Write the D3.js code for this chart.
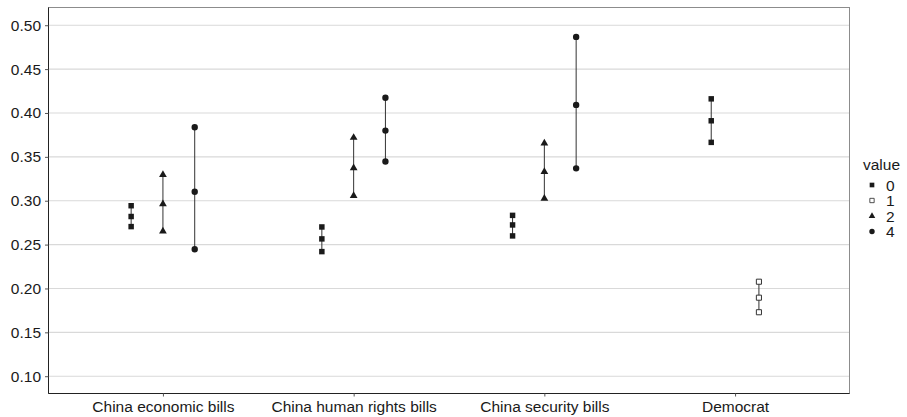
<!DOCTYPE html>
<html>
<head>
<meta charset="utf-8">
<script src="https://cdn.jsdelivr.net/npm/d3@7"></script>
<style>
  body { margin: 0; background: #fff; }
  text { font-family: "Liberation Sans", Arial, sans-serif; fill: #1a1a1a; }
</style>
</head>
<body>
<script>
// categories on the x axis
const categories = ["China economic bills", "China human rights bills", "China security bills", "Democrat"];
const groups = ["0", "1", "2", "4"];
const yTicks = [0.10, 0.15, 0.20, 0.25, 0.30, 0.35, 0.40, 0.45, 0.50];

// estimates per group: middle, lower, upper (null = no estimate)
const mid0 = [0.282, 0.2565, 0.2724, 0.3911];
const lo0  = [0.2705, 0.2420, 0.2599, 0.3665];
const hi0  = [0.2943, 0.2701, 0.2833, 0.4161];

const mid1 = [null, null, null, 0.1895];
const lo1  = [null, null, null, 0.1729];
const hi1  = [null, null, null, 0.2077];

const mid2 = [0.2962, 0.3372, 0.3330, null];
const lo2  = [0.2651, 0.3057, 0.3026, null];
const hi2  = [0.3295, 0.3719, 0.3656, null];

const mid4 = [0.3102, 0.3799, 0.4092, null];
const lo4  = [0.2447, 0.3447, 0.3369, null];
const hi4  = [0.3838, 0.4174, 0.4867, null];

const series = {
  "0": [mid0, lo0, hi0],
  "1": [mid1, lo1, hi1],
  "2": [mid2, lo2, hi2],
  "4": [mid4, lo4, hi4]
};

const rows = [];
categories.forEach((c, i) => {
  const present = groups.filter(g => series[g][0][i] != null);
  present.forEach((g, k) => {
    rows.push({cat: c, group: g, k: k, n: present.length,
      mid: series[g][0][i], lo: series[g][1][i], hi: series[g][2][i]});
  });
});

const W = 907, H = 417;
const pL = 48.5, pR = 849.5, pT = 7.5, pB = 393.5;

const svg = d3.select("body").append("svg")
  .attr("width", W).attr("height", H);

const x = d3.scalePoint().domain(categories).range([pL, pR]).padding(0.6);
const y = d3.scaleLinear().domain([0.0803, 0.5202]).range([pB, pT]);
const dodge = 0.5 * x.step();
function xPos(d) {
  return x(d.cat) + dodge * ((d.k + 0.5) / d.n - 0.5);
}

// grid
svg.append("g").selectAll("line")
  .data(yTicks).enter().append("line")
  .attr("x1", pL).attr("x2", pR)
  .attr("y1", d => y(d)).attr("y2", d => y(d))
  .attr("stroke", "#d9d9d9").attr("stroke-width", 1.1);

// border
svg.append("rect")
  .attr("x", pL).attr("y", pT)
  .attr("width", pR - pL).attr("height", pB - pT)
  .attr("fill", "none").attr("stroke", "#8c8c8c").attr("stroke-width", 1);

// axes
const yAxis = svg.append("g")
  .attr("transform", `translate(${pL},0)`)
  .call(d3.axisLeft(y).tickValues(yTicks).tickFormat(d3.format(".2f")).tickSize(3.5).tickPadding(4));
const xAxis = svg.append("g")
  .attr("transform", `translate(0,${pB})`)
  .call(d3.axisBottom(x).tickSize(3).tickPadding(4));
[yAxis, xAxis].forEach(a => {
  a.select(".domain").attr("stroke", "#222");
  a.selectAll(".tick line").attr("stroke", "#555");
  a.selectAll(".tick text").style("font-size", "15.5px").attr("fill", "#1a1a1a");
});
yAxis.select(".domain").attr("d", `M0,${pT}V${pB}`);
xAxis.select(".domain").attr("d", `M${pL},0H${pR}`);

// ranges
svg.append("g").selectAll("line")
  .data(rows).enter().append("line")
  .attr("x1", xPos).attr("x2", xPos)
  .attr("y1", d => y(d.lo)).attr("y2", d => y(d.hi))
  .attr("stroke", "#333").attr("stroke-width", 1);

const shapes = {
  "0": {type: d3.symbolSquare, size: 30, fill: "#1a1a1a", stroke: "none"},
  "1": {type: d3.symbolSquare, size: 26, fill: "#fff", stroke: "#333"},
  "2": {type: d3.symbolTriangle, size: 26, fill: "#1a1a1a", stroke: "none"},
  "4": {type: d3.symbolCircle, size: 32, fill: "#1a1a1a", stroke: "none"}
};
function sym(g) { return d3.symbol().type(shapes[g].type).size(shapes[g].size)(); }

const pts = [];
rows.forEach(d => ["lo", "mid", "hi"].forEach(f => pts.push({row: d, v: d[f]})));
svg.append("g").selectAll("path")
  .data(pts).enter().append("path")
  .attr("d", d => sym(d.row.group))
  .attr("transform", d => `translate(${xPos(d.row)},${y(d.v)})`)
  .attr("fill", d => shapes[d.row.group].fill)
  .attr("stroke", d => shapes[d.row.group].stroke)
  .attr("stroke-width", 1);

// legend
const lg = svg.append("g").attr("transform", "translate(863,0)");
lg.append("text").attr("x", 0).attr("y", 170).style("font-size", "15.5px").text("value");
const items = lg.selectAll("g.item").data(groups).enter().append("g")
  .attr("transform", (d, i) => `translate(0,${185 + i * 15.5})`);
items.append("path")
  .attr("d", d => sym(d))
  .attr("transform", "translate(9,0) scale(0.85)")
  .attr("fill", d => shapes[d].fill)
  .attr("stroke", d => shapes[d].stroke);
items.append("text").attr("x", 23).attr("y", 5.5)
  .style("font-size", "15.5px").text(d => d);
</script>
</body>
</html>
